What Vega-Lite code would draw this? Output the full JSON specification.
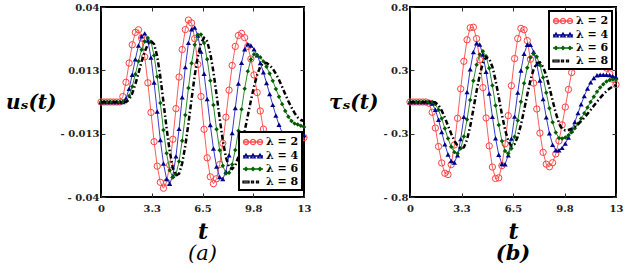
{
  "$schema": "https://vega.github.io/schema/vega-lite/v6.json",
  "padding": {"left": 4, "top": 1, "right": 2, "bottom": 0},
  "spacing": 15,
  "config": {
    "view": {"stroke": "#000", "strokeWidth": 2},
    "font": "DejaVu Serif",
    "axis": {"grid": false, "domain": false, "labelFont": "DejaVu Serif", "labelFontWeight": "bold", "labelFontSize": 10, "labelColor": "#222", "tickColor": "#333", "tickSize": -4, "labelFlush": false, "labelOverlap": false, "titleFont": "DejaVu Serif", "titleFontWeight": "bold", "titleFontStyle": "italic", "titleColor": "#000"},
    "legend": {"title": null, "orient": "none", "fillColor": "#fff", "strokeColor": "#000", "strokeWidth": 2, "padding": 3, "rowPadding": 1, "labelFont": "DejaVu Serif", "labelFontWeight": "bold", "labelFontSize": 11, "labelColor": "#000", "labelOffset": 10, "symbolSize": 144, "symbolStrokeWidth": 1.3, "symbolOpacity": 1},
    "title": {"font": "DejaVu Serif", "fontSize": 21, "fontStyle": "italic", "color": "#000"}
  },
  "datasets": {
    "us": [
      {"l":2,"t":0,"v":0},{"l":2,"t":0.2,"v":0},{"l":2,"t":0.4,"v":0},{"l":2,"t":0.6,"v":0},{"l":2,"t":0.8,"v":0},{"l":2,"t":1,"v":0},{"l":2,"t":1.2,"v":0},{"l":2,"t":1.4,"v":0.0023},{"l":2,"t":1.6,"v":0.0083},{"l":2,"t":1.8,"v":0.0164},{"l":2,"t":2,"v":0.0241},{"l":2,"t":2.2,"v":0.0293},{"l":2,"t":2.4,"v":0.0304},{"l":2,"t":2.6,"v":0.0269},{"l":2,"t":2.8,"v":0.019},{"l":2,"t":3,"v":0.0081},{"l":2,"t":3.2,"v":-0.0044},{"l":2,"t":3.4,"v":-0.0167},{"l":2,"t":3.6,"v":-0.027},{"l":2,"t":3.8,"v":-0.0338},{"l":2,"t":4,"v":-0.0363},{"l":2,"t":4.2,"v":-0.0337},{"l":2,"t":4.4,"v":-0.0265},{"l":2,"t":4.6,"v":-0.0157},{"l":2,"t":4.8,"v":-0.0028},{"l":2,"t":5,"v":0.0105},{"l":2,"t":5.2,"v":0.0221},{"l":2,"t":5.4,"v":0.0305},{"l":2,"t":5.6,"v":0.0345},{"l":2,"t":5.8,"v":0.0333},{"l":2,"t":6,"v":0.0267},{"l":2,"t":6.2,"v":0.0158},{"l":2,"t":6.4,"v":0.0023},{"l":2,"t":6.6,"v":-0.0115},{"l":2,"t":6.8,"v":-0.0235},{"l":2,"t":7,"v":-0.0315},{"l":2,"t":7.2,"v":-0.0344},{"l":2,"t":7.4,"v":-0.0323},{"l":2,"t":7.6,"v":-0.0263},{"l":2,"t":7.8,"v":-0.0174},{"l":2,"t":8,"v":-0.0064},{"l":2,"t":8.2,"v":0.005},{"l":2,"t":8.4,"v":0.0154},{"l":2,"t":8.6,"v":0.0234},{"l":2,"t":8.8,"v":0.028},{"l":2,"t":9,"v":0.0289},{"l":2,"t":9.2,"v":0.0271},{"l":2,"t":9.4,"v":0.0234},{"l":2,"t":9.6,"v":0.0181},{"l":2,"t":9.8,"v":0.0114},{"l":2,"t":10,"v":0.004},{"l":2,"t":10.2,"v":-0.0038},{"l":2,"t":10.4,"v":-0.0114},{"l":2,"t":10.6,"v":-0.0182},{"l":2,"t":10.8,"v":-0.0237},{"l":2,"t":11,"v":-0.0276},{"l":2,"t":11.2,"v":-0.0297},{"l":2,"t":11.4,"v":-0.0299},{"l":2,"t":11.6,"v":-0.0289},{"l":2,"t":11.8,"v":-0.027},{"l":2,"t":12,"v":-0.0245},{"l":2,"t":12.2,"v":-0.0218},{"l":2,"t":12.4,"v":-0.0192},{"l":2,"t":12.6,"v":-0.017},{"l":2,"t":12.8,"v":-0.0155},{"l":2,"t":13,"v":-0.015},
      {"l":4,"t":0,"v":0},{"l":4,"t":0.2,"v":0},{"l":4,"t":0.4,"v":0},{"l":4,"t":0.6,"v":0},{"l":4,"t":0.8,"v":0},{"l":4,"t":1,"v":0},{"l":4,"t":1.2,"v":0},{"l":4,"t":1.4,"v":0},{"l":4,"t":1.6,"v":0.0015},{"l":4,"t":1.8,"v":0.0056},{"l":4,"t":2,"v":0.0115},{"l":4,"t":2.2,"v":0.018},{"l":4,"t":2.4,"v":0.0238},{"l":4,"t":2.6,"v":0.0277},{"l":4,"t":2.8,"v":0.0289},{"l":4,"t":3,"v":0.0259},{"l":4,"t":3.2,"v":0.0187},{"l":4,"t":3.4,"v":0.0082},{"l":4,"t":3.6,"v":-0.004},{"l":4,"t":3.8,"v":-0.016},{"l":4,"t":4,"v":-0.0259},{"l":4,"t":4.2,"v":-0.0324},{"l":4,"t":4.4,"v":-0.0344},{"l":4,"t":4.6,"v":-0.0311},{"l":4,"t":4.8,"v":-0.0229},{"l":4,"t":5,"v":-0.0113},{"l":4,"t":5.2,"v":0.002},{"l":4,"t":5.4,"v":0.0147},{"l":4,"t":5.6,"v":0.0249},{"l":4,"t":5.8,"v":0.0306},{"l":4,"t":6,"v":0.0314},{"l":4,"t":6.2,"v":0.028},{"l":4,"t":6.4,"v":0.0212},{"l":4,"t":6.6,"v":0.0119},{"l":4,"t":6.8,"v":0.0012},{"l":4,"t":7,"v":-0.0097},{"l":4,"t":7.2,"v":-0.0196},{"l":4,"t":7.4,"v":-0.0272},{"l":4,"t":7.6,"v":-0.0316},{"l":4,"t":7.8,"v":-0.0324},{"l":4,"t":8,"v":-0.0293},{"l":4,"t":8.2,"v":-0.0224},{"l":4,"t":8.4,"v":-0.0131},{"l":4,"t":8.6,"v":-0.0025},{"l":4,"t":8.8,"v":0.0078},{"l":4,"t":9,"v":0.0165},{"l":4,"t":9.2,"v":0.0222},{"l":4,"t":9.4,"v":0.0243},{"l":4,"t":9.6,"v":0.0238},{"l":4,"t":9.8,"v":0.0222},{"l":4,"t":10,"v":0.0197},{"l":4,"t":10.2,"v":0.0164},{"l":4,"t":10.4,"v":0.0125},{"l":4,"t":10.6,"v":0.008},{"l":4,"t":10.8,"v":0.0034},{"l":4,"t":11,"v":-0.0012},{"l":4,"t":11.2,"v":-0.0057},{"l":4,"t":11.4,"v":-0.0096},{"l":4,"t":11.6,"v":-0.0129},{"l":4,"t":11.8,"v":-0.0154},{"l":4,"t":12,"v":-0.017},{"l":4,"t":12.2,"v":-0.0175},{"l":4,"t":12.4,"v":-0.017},{"l":4,"t":12.6,"v":-0.0158},{"l":4,"t":12.8,"v":-0.0145},{"l":4,"t":13,"v":-0.014},
      {"l":6,"t":0,"v":0},{"l":6,"t":0.2,"v":0},{"l":6,"t":0.4,"v":0},{"l":6,"t":0.6,"v":0},{"l":6,"t":0.8,"v":0},{"l":6,"t":1,"v":0},{"l":6,"t":1.2,"v":0},{"l":6,"t":1.4,"v":0},{"l":6,"t":1.6,"v":0.0003},{"l":6,"t":1.8,"v":0.0025},{"l":6,"t":2,"v":0.0065},{"l":6,"t":2.2,"v":0.0117},{"l":6,"t":2.4,"v":0.0172},{"l":6,"t":2.6,"v":0.022},{"l":6,"t":2.8,"v":0.0255},{"l":6,"t":3,"v":0.027},{"l":6,"t":3.2,"v":0.0254},{"l":6,"t":3.4,"v":0.0196},{"l":6,"t":3.6,"v":0.0106},{"l":6,"t":3.8,"v":-0.0004},{"l":6,"t":4,"v":-0.0118},{"l":6,"t":4.2,"v":-0.0216},{"l":6,"t":4.4,"v":-0.0287},{"l":6,"t":4.6,"v":-0.0318},{"l":6,"t":4.8,"v":-0.0305},{"l":6,"t":5,"v":-0.025},{"l":6,"t":5.2,"v":-0.0163},{"l":6,"t":5.4,"v":-0.0055},{"l":6,"t":5.6,"v":0.0059},{"l":6,"t":5.8,"v":0.0163},{"l":6,"t":6,"v":0.0241},{"l":6,"t":6.2,"v":0.0283},{"l":6,"t":6.4,"v":0.0284},{"l":6,"t":6.6,"v":0.0248},{"l":6,"t":6.8,"v":0.018},{"l":6,"t":7,"v":0.009},{"l":6,"t":7.2,"v":-0.0013},{"l":6,"t":7.4,"v":-0.0115},{"l":6,"t":7.6,"v":-0.0203},{"l":6,"t":7.8,"v":-0.0268},{"l":6,"t":8,"v":-0.0301},{"l":6,"t":8.2,"v":-0.0298},{"l":6,"t":8.4,"v":-0.0263},{"l":6,"t":8.6,"v":-0.0202},{"l":6,"t":8.8,"v":-0.0121},{"l":6,"t":9,"v":-0.0031},{"l":6,"t":9.2,"v":0.0056},{"l":6,"t":9.4,"v":0.0129},{"l":6,"t":9.6,"v":0.0179},{"l":6,"t":9.8,"v":0.0201},{"l":6,"t":10,"v":0.0198},{"l":6,"t":10.2,"v":0.0188},{"l":6,"t":10.4,"v":0.0171},{"l":6,"t":10.6,"v":0.0148},{"l":6,"t":10.8,"v":0.012},{"l":6,"t":11,"v":0.0089},{"l":6,"t":11.2,"v":0.0055},{"l":6,"t":11.4,"v":0.0022},{"l":6,"t":11.6,"v":-0.0009},{"l":6,"t":11.8,"v":-0.0038},{"l":6,"t":12,"v":-0.0062},{"l":6,"t":12.2,"v":-0.008},{"l":6,"t":12.4,"v":-0.0091},{"l":6,"t":12.6,"v":-0.0095},{"l":6,"t":12.8,"v":-0.01},{"l":6,"t":13,"v":-0.0105},
      {"l":8,"t":0,"v":0},{"l":8,"t":0.2,"v":0},{"l":8,"t":0.4,"v":0},{"l":8,"t":0.6,"v":0},{"l":8,"t":0.8,"v":0},{"l":8,"t":1,"v":0},{"l":8,"t":1.2,"v":0},{"l":8,"t":1.4,"v":0},{"l":8,"t":1.6,"v":0},{"l":8,"t":1.8,"v":0.0009},{"l":8,"t":2,"v":0.0036},{"l":8,"t":2.2,"v":0.0075},{"l":8,"t":2.4,"v":0.0122},{"l":8,"t":2.6,"v":0.017},{"l":8,"t":2.8,"v":0.0212},{"l":8,"t":3,"v":0.0243},{"l":8,"t":3.2,"v":0.0256},{"l":8,"t":3.4,"v":0.0244},{"l":8,"t":3.6,"v":0.0192},{"l":8,"t":3.8,"v":0.0106},{"l":8,"t":4,"v":0},{"l":8,"t":4.2,"v":-0.011},{"l":8,"t":4.4,"v":-0.0207},{"l":8,"t":4.6,"v":-0.0278},{"l":8,"t":4.8,"v":-0.031},{"l":8,"t":5,"v":-0.0302},{"l":8,"t":5.2,"v":-0.0258},{"l":8,"t":5.4,"v":-0.0184},{"l":8,"t":5.6,"v":-0.009},{"l":8,"t":5.8,"v":0.0012},{"l":8,"t":6,"v":0.0111},{"l":8,"t":6.2,"v":0.0192},{"l":8,"t":6.4,"v":0.0247},{"l":8,"t":6.6,"v":0.027},{"l":8,"t":6.8,"v":0.0255},{"l":8,"t":7,"v":0.0205},{"l":8,"t":7.2,"v":0.0127},{"l":8,"t":7.4,"v":0.0031},{"l":8,"t":7.6,"v":-0.0069},{"l":8,"t":7.8,"v":-0.0162},{"l":8,"t":8,"v":-0.0233},{"l":8,"t":8.2,"v":-0.0275},{"l":8,"t":8.4,"v":-0.0282},{"l":8,"t":8.6,"v":-0.0266},{"l":8,"t":8.8,"v":-0.0231},{"l":8,"t":9,"v":-0.0183},{"l":8,"t":9.2,"v":-0.0123},{"l":8,"t":9.4,"v":-0.0058},{"l":8,"t":9.6,"v":0.0006},{"l":8,"t":9.8,"v":0.0066},{"l":8,"t":10,"v":0.0114},{"l":8,"t":10.2,"v":0.0149},{"l":8,"t":10.4,"v":0.0165},{"l":8,"t":10.6,"v":0.0164},{"l":8,"t":10.8,"v":0.0155},{"l":8,"t":11,"v":0.014},{"l":8,"t":11.2,"v":0.0119},{"l":8,"t":11.4,"v":0.0093},{"l":8,"t":11.6,"v":0.0064},{"l":8,"t":11.8,"v":0.0033},{"l":8,"t":12,"v":0.0003},{"l":8,"t":12.2,"v":-0.0023},{"l":8,"t":12.4,"v":-0.0047},{"l":8,"t":12.6,"v":-0.0065},{"l":8,"t":12.8,"v":-0.0076},{"l":8,"t":13,"v":-0.008}
    ],
    "tau": [
      {"l":2,"t":0,"v":0},{"l":2,"t":0.2,"v":0},{"l":2,"t":0.4,"v":0},{"l":2,"t":0.6,"v":0},{"l":2,"t":0.8,"v":0},{"l":2,"t":1,"v":0},{"l":2,"t":1.2,"v":-0.01},{"l":2,"t":1.4,"v":-0.0865},{"l":2,"t":1.6,"v":-0.2193},{"l":2,"t":1.8,"v":-0.3747},{"l":2,"t":2,"v":-0.5132},{"l":2,"t":2.2,"v":-0.5998},{"l":2,"t":2.4,"v":-0.6108},{"l":2,"t":2.6,"v":-0.5269},{"l":2,"t":2.8,"v":-0.3617},{"l":2,"t":3,"v":-0.137},{"l":2,"t":3.2,"v":0.1109},{"l":2,"t":3.4,"v":0.3426},{"l":2,"t":3.6,"v":0.5239},{"l":2,"t":3.8,"v":0.6252},{"l":2,"t":4,"v":0.6295},{"l":2,"t":4.2,"v":0.5338},{"l":2,"t":4.4,"v":0.3558},{"l":2,"t":4.6,"v":0.1212},{"l":2,"t":4.8,"v":-0.1345},{"l":2,"t":5,"v":-0.3698},{"l":2,"t":5.2,"v":-0.5479},{"l":2,"t":5.4,"v":-0.644},{"l":2,"t":5.6,"v":-0.6388},{"l":2,"t":5.8,"v":-0.5357},{"l":2,"t":6,"v":-0.3512},{"l":2,"t":6.2,"v":-0.1152},{"l":2,"t":6.4,"v":0.1372},{"l":2,"t":6.6,"v":0.366},{"l":2,"t":6.8,"v":0.5342},{"l":2,"t":7,"v":0.6199},{"l":2,"t":7.2,"v":0.6088},{"l":2,"t":7.4,"v":0.5174},{"l":2,"t":7.6,"v":0.3598},{"l":2,"t":7.8,"v":0.1589},{"l":2,"t":8,"v":-0.0587},{"l":2,"t":8.2,"v":-0.2616},{"l":2,"t":8.4,"v":-0.424},{"l":2,"t":8.6,"v":-0.5238},{"l":2,"t":8.8,"v":-0.5456},{"l":2,"t":9,"v":-0.5112},{"l":2,"t":9.2,"v":-0.4371},{"l":2,"t":9.4,"v":-0.328},{"l":2,"t":9.6,"v":-0.1926},{"l":2,"t":9.8,"v":-0.0426},{"l":2,"t":10,"v":0.1054},{"l":2,"t":10.2,"v":0.2484},{"l":2,"t":10.4,"v":0.3652},{"l":2,"t":10.6,"v":0.4492},{"l":2,"t":10.8,"v":0.4944},{"l":2,"t":11,"v":0.4989},{"l":2,"t":11.2,"v":0.4899},{"l":2,"t":11.4,"v":0.4722},{"l":2,"t":11.6,"v":0.4462},{"l":2,"t":11.8,"v":0.4133},{"l":2,"t":12,"v":0.3748},{"l":2,"t":12.2,"v":0.3317},{"l":2,"t":12.4,"v":0.2856},{"l":2,"t":12.6,"v":0.2381},{"l":2,"t":12.8,"v":0.1911},{"l":2,"t":13,"v":0.1465},
      {"l":4,"t":0,"v":0},{"l":4,"t":0.2,"v":0},{"l":4,"t":0.4,"v":0},{"l":4,"t":0.6,"v":0},{"l":4,"t":0.8,"v":0},{"l":4,"t":1,"v":0},{"l":4,"t":1.2,"v":0},{"l":4,"t":1.4,"v":-0.0123},{"l":4,"t":1.6,"v":-0.0656},{"l":4,"t":1.8,"v":-0.1499},{"l":4,"t":2,"v":-0.2528},{"l":4,"t":2.2,"v":-0.356},{"l":4,"t":2.4,"v":-0.4422},{"l":4,"t":2.6,"v":-0.4966},{"l":4,"t":2.8,"v":-0.5093},{"l":4,"t":3,"v":-0.4485},{"l":4,"t":3.2,"v":-0.3129},{"l":4,"t":3.4,"v":-0.1251},{"l":4,"t":3.6,"v":0.0833},{"l":4,"t":3.8,"v":0.2763},{"l":4,"t":4,"v":0.4209},{"l":4,"t":4.2,"v":0.4946},{"l":4,"t":4.4,"v":0.4841},{"l":4,"t":4.6,"v":0.4001},{"l":4,"t":4.8,"v":0.2551},{"l":4,"t":5,"v":0.0722},{"l":4,"t":5.2,"v":-0.1236},{"l":4,"t":5.4,"v":-0.3049},{"l":4,"t":5.6,"v":-0.4436},{"l":4,"t":5.8,"v":-0.5215},{"l":4,"t":6,"v":-0.5247},{"l":4,"t":6.2,"v":-0.449},{"l":4,"t":6.4,"v":-0.3084},{"l":4,"t":6.6,"v":-0.1229},{"l":4,"t":6.8,"v":0.0793},{"l":4,"t":7,"v":0.2653},{"l":4,"t":7.2,"v":0.4061},{"l":4,"t":7.4,"v":0.4821},{"l":4,"t":7.6,"v":0.4816},{"l":4,"t":7.8,"v":0.4232},{"l":4,"t":8,"v":0.3194},{"l":4,"t":8.2,"v":0.1805},{"l":4,"t":8.4,"v":0.0242},{"l":4,"t":8.6,"v":-0.1298},{"l":4,"t":8.8,"v":-0.2632},{"l":4,"t":9,"v":-0.3597},{"l":4,"t":9.2,"v":-0.4066},{"l":4,"t":9.4,"v":-0.4063},{"l":4,"t":9.6,"v":-0.3865},{"l":4,"t":9.8,"v":-0.35},{"l":4,"t":10,"v":-0.2992},{"l":4,"t":10.2,"v":-0.2378},{"l":4,"t":10.4,"v":-0.1687},{"l":4,"t":10.6,"v":-0.0937},{"l":4,"t":10.8,"v":-0.0195},{"l":4,"t":11,"v":0.0511},{"l":4,"t":11.2,"v":0.1135},{"l":4,"t":11.4,"v":0.1656},{"l":4,"t":11.6,"v":0.2025},{"l":4,"t":11.8,"v":0.2251},{"l":4,"t":12,"v":0.23},{"l":4,"t":12.2,"v":0.2295},{"l":4,"t":12.4,"v":0.2285},{"l":4,"t":12.6,"v":0.2263},{"l":4,"t":12.8,"v":0.2162},{"l":4,"t":13,"v":0.21},
      {"l":6,"t":0,"v":0},{"l":6,"t":0.2,"v":0},{"l":6,"t":0.4,"v":0},{"l":6,"t":0.6,"v":0},{"l":6,"t":0.8,"v":0},{"l":6,"t":1,"v":0},{"l":6,"t":1.2,"v":0},{"l":6,"t":1.4,"v":0},{"l":6,"t":1.6,"v":-0.017},{"l":6,"t":1.8,"v":-0.0662},{"l":6,"t":2,"v":-0.1391},{"l":6,"t":2.2,"v":-0.224},{"l":6,"t":2.4,"v":-0.3081},{"l":6,"t":2.6,"v":-0.3777},{"l":6,"t":2.8,"v":-0.4222},{"l":6,"t":3,"v":-0.4343},{"l":6,"t":3.2,"v":-0.3916},{"l":6,"t":3.4,"v":-0.2912},{"l":6,"t":3.6,"v":-0.148},{"l":6,"t":3.8,"v":0.0169},{"l":6,"t":4,"v":0.1789},{"l":6,"t":4.2,"v":0.3131},{"l":6,"t":4.4,"v":0.4005},{"l":6,"t":4.6,"v":0.4267},{"l":6,"t":4.8,"v":0.3855},{"l":6,"t":5,"v":0.2845},{"l":6,"t":5.2,"v":0.1387},{"l":6,"t":5.4,"v":-0.0296},{"l":6,"t":5.6,"v":-0.1942},{"l":6,"t":5.8,"v":-0.3281},{"l":6,"t":6,"v":-0.4135},{"l":6,"t":6.2,"v":-0.4337},{"l":6,"t":6.4,"v":-0.391},{"l":6,"t":6.6,"v":-0.2934},{"l":6,"t":6.8,"v":-0.156},{"l":6,"t":7,"v":0.0021},{"l":6,"t":7.2,"v":0.1576},{"l":6,"t":7.4,"v":0.289},{"l":6,"t":7.6,"v":0.3753},{"l":6,"t":7.8,"v":0.407},{"l":6,"t":8,"v":0.3816},{"l":6,"t":8.2,"v":0.3118},{"l":6,"t":8.4,"v":0.2063},{"l":6,"t":8.6,"v":0.0788},{"l":6,"t":8.8,"v":-0.0525},{"l":6,"t":9,"v":-0.17},{"l":6,"t":9.2,"v":-0.2573},{"l":6,"t":9.4,"v":-0.3041},{"l":6,"t":9.6,"v":-0.3077},{"l":6,"t":9.8,"v":-0.2983},{"l":6,"t":10,"v":-0.2802},{"l":6,"t":10.2,"v":-0.254},{"l":6,"t":10.4,"v":-0.2211},{"l":6,"t":10.6,"v":-0.1826},{"l":6,"t":10.8,"v":-0.1397},{"l":6,"t":11,"v":-0.0937},{"l":6,"t":11.2,"v":-0.0465},{"l":6,"t":11.4,"v":0},{"l":6,"t":11.6,"v":0.0447},{"l":6,"t":11.8,"v":0.0858},{"l":6,"t":12,"v":0.1212},{"l":6,"t":12.2,"v":0.149},{"l":6,"t":12.4,"v":0.1722},{"l":6,"t":12.6,"v":0.1855},{"l":6,"t":12.8,"v":0.19},{"l":6,"t":13,"v":0.188},
      {"l":8,"t":0,"v":0},{"l":8,"t":0.2,"v":0},{"l":8,"t":0.4,"v":0},{"l":8,"t":0.6,"v":0},{"l":8,"t":0.8,"v":0},{"l":8,"t":1,"v":0},{"l":8,"t":1.2,"v":0},{"l":8,"t":1.4,"v":0},{"l":8,"t":1.6,"v":-0.0031},{"l":8,"t":1.8,"v":-0.0274},{"l":8,"t":2,"v":-0.072},{"l":8,"t":2.2,"v":-0.132},{"l":8,"t":2.4,"v":-0.2},{"l":8,"t":2.6,"v":-0.2675},{"l":8,"t":2.8,"v":-0.3262},{"l":8,"t":3,"v":-0.3692},{"l":8,"t":3.2,"v":-0.391},{"l":8,"t":3.4,"v":-0.382},{"l":8,"t":3.6,"v":-0.3173},{"l":8,"t":3.8,"v":-0.2038},{"l":8,"t":4,"v":-0.0605},{"l":8,"t":4.2,"v":0.0915},{"l":8,"t":4.4,"v":0.2281},{"l":8,"t":4.6,"v":0.3277},{"l":8,"t":4.8,"v":0.3763},{"l":8,"t":5,"v":0.3645},{"l":8,"t":5.2,"v":0.296},{"l":8,"t":5.4,"v":0.1836},{"l":8,"t":5.6,"v":0.0416},{"l":8,"t":5.8,"v":-0.1054},{"l":8,"t":6,"v":-0.2326},{"l":8,"t":6.2,"v":-0.3281},{"l":8,"t":6.4,"v":-0.3698},{"l":8,"t":6.6,"v":-0.354},{"l":8,"t":6.8,"v":-0.2922},{"l":8,"t":7,"v":-0.1929},{"l":8,"t":7.2,"v":-0.0692},{"l":8,"t":7.4,"v":0.0619},{"l":8,"t":7.6,"v":0.1823},{"l":8,"t":7.8,"v":0.275},{"l":8,"t":8,"v":0.3282},{"l":8,"t":8.2,"v":0.3336},{"l":8,"t":8.4,"v":0.2951},{"l":8,"t":8.6,"v":0.2219},{"l":8,"t":8.8,"v":0.1225},{"l":8,"t":9,"v":0.0125},{"l":8,"t":9.2,"v":-0.0922},{"l":8,"t":9.4,"v":-0.1761},{"l":8,"t":9.6,"v":-0.2282},{"l":8,"t":9.8,"v":-0.2398},{"l":8,"t":10,"v":-0.2353},{"l":8,"t":10.2,"v":-0.2248},{"l":8,"t":10.4,"v":-0.2081},{"l":8,"t":10.6,"v":-0.1872},{"l":8,"t":10.8,"v":-0.1618},{"l":8,"t":11,"v":-0.1323},{"l":8,"t":11.2,"v":-0.1002},{"l":8,"t":11.4,"v":-0.0665},{"l":8,"t":11.6,"v":-0.0321},{"l":8,"t":11.8,"v":0.0018},{"l":8,"t":12,"v":0.0345},{"l":8,"t":12.2,"v":0.0645},{"l":8,"t":12.4,"v":0.0915},{"l":8,"t":12.6,"v":0.1137},{"l":8,"t":12.8,"v":0.1308},{"l":8,"t":13,"v":0.1426}
    ]
  },
  "resolve": {"scale": {"color": "independent", "shape": "independent"}, "legend": {"color": "independent", "shape": "independent"}},
  "hconcat": [
    {
      "width": 203,
      "height": 190,
      "title": {"text": "(a)", "orient": "bottom", "fontWeight": "normal", "offset": 1},
      "data": {"name": "us"},
      "resolve": {"axis": {"x": "independent", "y": "independent"}},
      "layer": [
        {
          "transform": [{"filter": "datum.l == 2"}],
          "mark": {"type": "line", "strokeWidth": 1, "color": "#ff5c5c"},
          "encoding": {
            "x": {"field": "t", "type": "quantitative", "scale": {"domain": [0, 13], "nice": false}, "axis": {"values": [0, 3.25, 6.5, 9.75, 13], "labelExpr": "datum.value == 3.25 ? '3.3' : datum.value == 9.75 ? '9.8' : datum.value == 6.5 ? '6.5' : datum.value == 13 ? '13' : '0'", "title": "t", "titleFontSize": 22, "titlePadding": 8, "labelPadding": 10}},
            "y": {"field": "v", "type": "quantitative", "scale": {"domain": [-0.04, 0.04], "nice": false}, "axis": {"values": [-0.04, -0.013333, 0.013333, 0.04], "labelExpr": "datum.value > 0.03 ? '0.04' : datum.value > 0 ? '0.013' : datum.value > -0.03 ? '- 0.013' : '- 0.04'", "title": "uₛ(t)", "titleAngle": 0, "titleAlign": "right", "titleBaseline": "middle", "titleFontSize": 20, "titlePadding": 4, "labelPadding": 6}}
          }
        },
        {
          "transform": [{"filter": "datum.l == 2"}],
          "mark": {"type": "point", "filled": false, "size": 40, "strokeWidth": 1, "opacity": 1, "color": "#ff4040"},
          "encoding": {
            "x": {"field": "t", "type": "quantitative", "axis": {"orient": "top", "labels": false, "title": null, "values": [0, 3.25, 6.5, 9.75, 13]}},
            "y": {"field": "v", "type": "quantitative", "axis": {"orient": "right", "labels": false, "title": null, "values": [-0.04, -0.013333, 0.013333, 0.04]}}
          }
        },
        {
          "transform": [{"filter": "datum.l == 4"}],
          "mark": {"type": "line", "strokeWidth": 1, "color": "#3a3ad0"},
          "encoding": {"x": {"field": "t", "type": "quantitative", "axis": null}, "y": {"field": "v", "type": "quantitative", "axis": null}}
        },
        {
          "transform": [{"filter": "datum.l == 4"}],
          "mark": {"type": "point", "filled": true, "shape": "triangle-up", "size": 26, "opacity": 1, "color": "#00008b"},
          "encoding": {"x": {"field": "t", "type": "quantitative", "axis": null}, "y": {"field": "v", "type": "quantitative", "axis": null}}
        },
        {
          "transform": [{"filter": "datum.l == 6"}],
          "mark": {"type": "line", "strokeWidth": 1, "color": "#2e8b2e"},
          "encoding": {"x": {"field": "t", "type": "quantitative", "axis": null}, "y": {"field": "v", "type": "quantitative", "axis": null}}
        },
        {
          "transform": [{"filter": "datum.l == 6"}],
          "mark": {"type": "point", "filled": true, "shape": "diamond", "size": 20, "opacity": 1, "color": "#005a00"},
          "encoding": {"x": {"field": "t", "type": "quantitative", "axis": null}, "y": {"field": "v", "type": "quantitative", "axis": null}}
        },
        {
          "transform": [{"filter": "datum.l == 8"}],
          "mark": {"type": "line", "strokeWidth": 2.5, "strokeDash": [5, 2.5, 1.5, 2.5], "color": "#000"},
          "encoding": {"x": {"field": "t", "type": "quantitative", "axis": null}, "y": {"field": "v", "type": "quantitative", "axis": null}}
        },
        {
          "transform": [{"filter": "false"}],
          "mark": {"type": "point", "filled": false, "size": 144, "strokeWidth": 1.3, "opacity": 1},
          "encoding": {
            "x": {"field": "t", "type": "quantitative", "axis": null},
            "y": {"field": "v", "type": "quantitative", "axis": null},
            "color": {"field": "l", "type": "nominal", "scale": {"domain": [2, 4, 6, 8], "range": ["#ff4d4d", "#00008b", "#006400", "#000000"]}, "legend": {"legendX": 138, "legendY": 125, "labelExpr": "'λ = ' + datum.label"}},
            "shape": {"field": "l", "type": "nominal", "scale": {"domain": [2, 4, 6, 8], "range": [
              "M-1,0L2.333,0M-0.917,0A0.417,0.417,0,1,0,-0.083,0A0.417,0.417,0,1,0,-0.917,0M0.25,0A0.417,0.417,0,1,0,1.083,0A0.417,0.417,0,1,0,0.25,0M1.417,0A0.417,0.417,0,1,0,2.25,0A0.417,0.417,0,1,0,1.417,0",
              "M-1,0L2.333,0M-0.867,0.3L-0.5,-0.333L-0.133,0.3ZM0.3,0.3L0.667,-0.333L1.033,0.3ZM1.467,0.3L1.833,-0.333L2.2,0.3Z",
              "M-1,0L2.333,0M-0.767,0L-0.5,-0.267L-0.233,0L-0.5,0.267ZM0.4,0L0.667,-0.267L0.933,0L0.667,0.267ZM1.567,0L1.833,-0.267L2.1,0L1.833,0.267Z",
              "M-1,-0.133L0,-0.133L0,0.133L-1,0.133ZM0.417,-0.133L0.75,-0.133L0.75,0.133L0.417,0.133ZM1.25,-0.133L1.583,-0.133L1.583,0.133L1.25,0.133Z"
            ]}, "legend": {"legendX": 138, "legendY": 125, "labelExpr": "'λ = ' + datum.label"}}
          }
        }
      ]
    },
    {
      "width": 206,
      "height": 190,
      "title": {"text": "(b)", "orient": "bottom", "fontWeight": "bold", "offset": 1},
      "data": {"name": "tau"},
      "resolve": {"axis": {"x": "independent", "y": "independent"}},
      "layer": [
        {
          "transform": [{"filter": "datum.l == 2"}],
          "mark": {"type": "line", "strokeWidth": 1, "color": "#ff5c5c"},
          "encoding": {
            "x": {"field": "t", "type": "quantitative", "scale": {"domain": [0, 13], "nice": false}, "axis": {"values": [0, 3.25, 6.5, 9.75, 13], "labelExpr": "datum.value == 3.25 ? '3.3' : datum.value == 9.75 ? '9.8' : datum.value == 6.5 ? '6.5' : datum.value == 13 ? '13' : '0'", "title": "t", "titleFontSize": 22, "titlePadding": 8, "labelPadding": 10}},
            "y": {"field": "v", "type": "quantitative", "scale": {"domain": [-0.8, 0.8], "nice": false}, "axis": {"values": [-0.8, -0.266667, 0.266667, 0.8], "labelExpr": "datum.value > 0.5 ? '0.8' : datum.value > 0 ? '0.3' : datum.value > -0.5 ? '- 0.3' : '- 0.8'", "title": "τₛ(t)", "titleAngle": 0, "titleAlign": "right", "titleBaseline": "middle", "titleFontSize": 20, "titlePadding": 5, "labelPadding": 6}}
          }
        },
        {
          "transform": [{"filter": "datum.l == 2"}],
          "mark": {"type": "point", "filled": false, "size": 40, "strokeWidth": 1, "opacity": 1, "color": "#ff4040"},
          "encoding": {
            "x": {"field": "t", "type": "quantitative", "axis": {"orient": "top", "labels": false, "title": null, "values": [0, 3.25, 6.5, 9.75, 13]}},
            "y": {"field": "v", "type": "quantitative", "axis": {"orient": "right", "labels": false, "title": null, "values": [-0.8, -0.266667, 0.266667, 0.8]}}
          }
        },
        {
          "transform": [{"filter": "datum.l == 4"}],
          "mark": {"type": "line", "strokeWidth": 1, "color": "#3a3ad0"},
          "encoding": {"x": {"field": "t", "type": "quantitative", "axis": null}, "y": {"field": "v", "type": "quantitative", "axis": null}}
        },
        {
          "transform": [{"filter": "datum.l == 4"}],
          "mark": {"type": "point", "filled": true, "shape": "triangle-up", "size": 26, "opacity": 1, "color": "#00008b"},
          "encoding": {"x": {"field": "t", "type": "quantitative", "axis": null}, "y": {"field": "v", "type": "quantitative", "axis": null}}
        },
        {
          "transform": [{"filter": "datum.l == 6"}],
          "mark": {"type": "line", "strokeWidth": 1, "color": "#2e8b2e"},
          "encoding": {"x": {"field": "t", "type": "quantitative", "axis": null}, "y": {"field": "v", "type": "quantitative", "axis": null}}
        },
        {
          "transform": [{"filter": "datum.l == 6"}],
          "mark": {"type": "point", "filled": true, "shape": "diamond", "size": 20, "opacity": 1, "color": "#005a00"},
          "encoding": {"x": {"field": "t", "type": "quantitative", "axis": null}, "y": {"field": "v", "type": "quantitative", "axis": null}}
        },
        {
          "transform": [{"filter": "datum.l == 8"}],
          "mark": {"type": "line", "strokeWidth": 2.5, "strokeDash": [5, 2.5, 1.5, 2.5], "color": "#000"},
          "encoding": {"x": {"field": "t", "type": "quantitative", "axis": null}, "y": {"field": "v", "type": "quantitative", "axis": null}}
        },
        {
          "transform": [{"filter": "false"}],
          "mark": {"type": "point", "filled": false, "size": 144, "strokeWidth": 1.3, "opacity": 1},
          "encoding": {
            "x": {"field": "t", "type": "quantitative", "axis": null},
            "y": {"field": "v", "type": "quantitative", "axis": null},
            "color": {"field": "l", "type": "nominal", "scale": {"domain": [2, 4, 6, 8], "range": ["#ff4d4d", "#00008b", "#006400", "#000000"]}, "legend": {"legendX": 139, "legendY": 4, "labelExpr": "'λ = ' + datum.label"}},
            "shape": {"field": "l", "type": "nominal", "scale": {"domain": [2, 4, 6, 8], "range": [
              "M-1,0L2.333,0M-0.917,0A0.417,0.417,0,1,0,-0.083,0A0.417,0.417,0,1,0,-0.917,0M0.25,0A0.417,0.417,0,1,0,1.083,0A0.417,0.417,0,1,0,0.25,0M1.417,0A0.417,0.417,0,1,0,2.25,0A0.417,0.417,0,1,0,1.417,0",
              "M-1,0L2.333,0M-0.867,0.3L-0.5,-0.333L-0.133,0.3ZM0.3,0.3L0.667,-0.333L1.033,0.3ZM1.467,0.3L1.833,-0.333L2.2,0.3Z",
              "M-1,0L2.333,0M-0.767,0L-0.5,-0.267L-0.233,0L-0.5,0.267ZM0.4,0L0.667,-0.267L0.933,0L0.667,0.267ZM1.567,0L1.833,-0.267L2.1,0L1.833,0.267Z",
              "M-1,-0.133L0,-0.133L0,0.133L-1,0.133ZM0.417,-0.133L0.75,-0.133L0.75,0.133L0.417,0.133ZM1.25,-0.133L1.583,-0.133L1.583,0.133L1.25,0.133Z"
            ]}, "legend": {"legendX": 139, "legendY": 4, "labelExpr": "'λ = ' + datum.label"}}
          }
        }
      ]
    }
  ]
}
